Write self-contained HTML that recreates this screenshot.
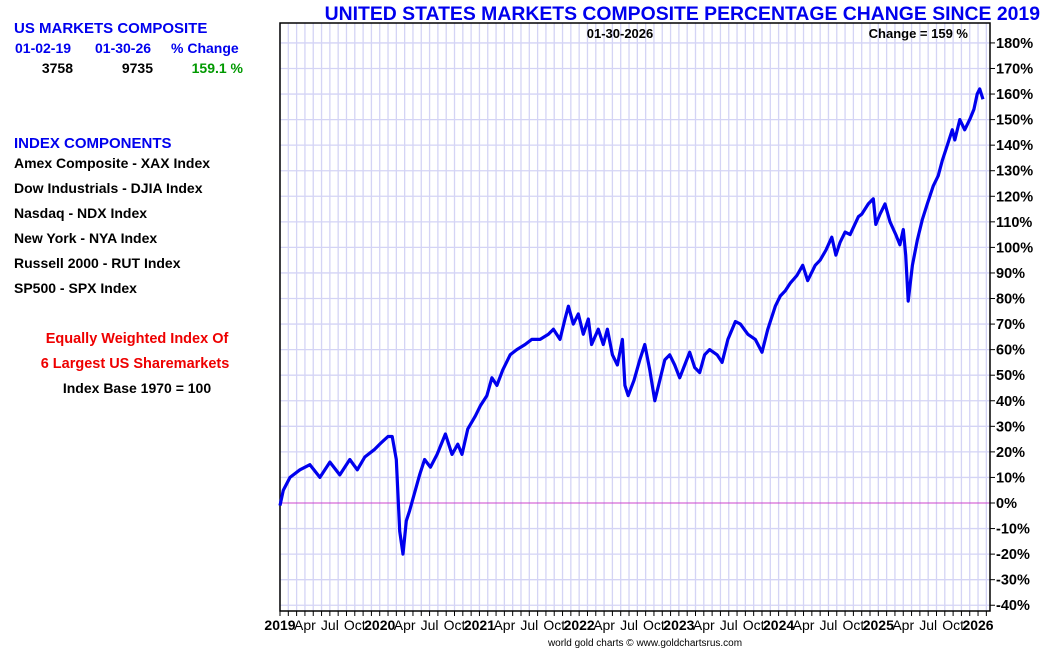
<!DOCTYPE html>
<html><head><meta charset="utf-8"><style>
html,body{margin:0;padding:0;background:#fff;}
svg{display:block;font-family:"Liberation Sans",Arial,sans-serif;}
</style></head><body>
<svg id="chart" width="1050" height="650" viewBox="0 0 1050 650">
<g font-weight="bold" font-size="14">
<text x="14" y="33" fill="#0000ee" font-size="15">US MARKETS COMPOSITE</text>
<text x="15" y="53" fill="#0000ee">01-02-19</text>
<text x="95" y="53" fill="#0000ee">01-30-26</text>
<text x="171" y="53" fill="#0000ee">% Change</text>
<text x="73" y="73" text-anchor="end" fill="#000">3758</text>
<text x="153" y="73" text-anchor="end" fill="#000">9735</text>
<text x="243" y="73" text-anchor="end" fill="#009900">159.1 %</text>
<text x="14" y="148" fill="#0000ee" font-size="15">INDEX COMPONENTS</text>
<text x="14" y="168" fill="#000">Amex Composite - XAX Index</text>
<text x="14" y="193" fill="#000">Dow Industrials - DJIA Index</text>
<text x="14" y="218" fill="#000">Nasdaq - NDX Index</text>
<text x="14" y="243" fill="#000">New York - NYA Index</text>
<text x="14" y="268" fill="#000">Russell 2000 - RUT Index</text>
<text x="14" y="293" fill="#000">SP500 - SPX Index</text>
<text x="137" y="343" text-anchor="middle" fill="#ee0000" font-size="14.5">Equally Weighted Index Of</text>
<text x="135" y="368" text-anchor="middle" fill="#ee0000" font-size="14.5">6 Largest US Sharemarkets</text>
<text x="137" y="393" text-anchor="middle" fill="#000">Index Base 1970 = 100</text>
</g>
<text x="1040" y="20" text-anchor="end" fill="#0000ee" font-weight="bold" font-size="19.4">UNITED STATES MARKETS COMPOSITE PERCENTAGE CHANGE SINCE 2019</text>
<g id="grid"></g>
<g id="axes"></g>
<g id="series"></g>
<text x="620" y="38" text-anchor="middle" font-weight="bold" font-size="13">01-30-2026</text>
<text x="968" y="38" text-anchor="end" font-weight="bold" font-size="13">Change = 159 %</text>
<text x="645" y="646" text-anchor="middle" font-size="10" fill="#000">world gold charts © www.goldchartsrus.com</text>
</svg>
<script>
const months = [0,0.4,1.2,2.4,3.6,4.8,6.0,7.2,8.4,9.3,10.2,11.4,12.0,13.0,13.5,14.0,14.4,14.8,15.2,15.6,16.2,16.8,17.4,18.1,18.9,19.9,20.7,21.4,21.9,22.6,23.5,24.1,24.9,25.5,26.1,26.8,27.7,28.5,29.5,30.3,31.3,32.3,32.9,33.7,34.3,34.7,35.3,35.9,36.5,37.1,37.5,38.3,38.9,39.4,40.0,40.6,41.2,41.5,41.9,42.6,43.3,43.9,44.5,45.1,45.7,46.3,46.9,47.5,48.1,48.7,49.3,49.9,50.5,51.1,51.7,52.6,53.2,53.9,54.8,55.4,56.3,57.2,58.0,58.7,59.6,60.2,60.8,61.4,62.2,62.9,63.5,64.4,65.0,65.7,66.4,66.9,67.4,68.0,68.6,69.6,70.0,70.8,71.4,71.7,72.2,72.8,73.4,74.1,74.6,75.0,75.3,75.6,76.1,76.7,77.3,77.9,78.6,79.2,79.7,80.3,80.9,81.2,81.8,82.4,83.0,83.5,83.9,84.2,84.6];
const pctChange = [-1,5,10,13,15,10,16,11,17,13,18,21,23,26,26,17,-11,-20,-7,-3,4,11,17,14,19,27,19,23,19,29,34,38,42,49,46,52,58,60,62,64,64,66,68,64,72,77,70,74,66,72,62,68,62,68,58,54,64,46,42,48,56,62,52,40,48,56,58,54,49,54,59,53,51,58,60,58,55,64,71,70,66,64,59,68,77,81,83,86,89,93,87,93,95,99,104,97,102,106,105,112,113,117,119,109,113,117,110,105,101,107,97,79,93,103,111,117,124,128,134,140,146,142,150,146,150,154,160,162,158];
const yTicks = [-40,-30,-20,-10,0,10,20,30,40,50,60,70,80,90,100,110,120,130,140,150,160,170,180];
const monthLabels = ["Jan","Feb","Mar","Apr","May","Jun","Jul","Aug","Sep","Oct","Nov","Dec"];
const startYear = 2019;

const L=280,R=990,T=23,B=611;
const xS = m => L + m*8.31;
const yS = v => 503 - v*2.556;
const NS="http://www.w3.org/2000/svg";
function mk(tag,attrs,parent){const e=document.createElementNS(NS,tag);for(const k in attrs)e.setAttribute(k,attrs[k]);parent.appendChild(e);return e;}
const grid=document.getElementById('grid'), axes=document.getElementById('axes'), series=document.getElementById('series');

for(let m=0; xS(m)<=R; m++){
  const x=xS(m);
  const gl=mk('line',{x1:x,x2:x,y1:T,y2:B,stroke:'#d4d4f5','stroke-width':1.3},grid);
  
  
  const tk=mk('line',{x1:x,x2:x,y1:B,y2:B+5,stroke:'#000','stroke-width':1},axes);
  
  
  const mo=m%12;
  if(mo%3===0 && x<=R){
    const isYear=mo===0;
    const t=mk('text',{x:x,y:630,'text-anchor':'middle','font-size':14,'font-weight':isYear?'bold':'normal',fill:'#000'},axes);
    t.textContent=isYear?String(startYear+m/12):monthLabels[mo];
    
    
  }
}
yTicks.forEach(v=>{
  const y=yS(v);
  if(v!==0){
    const gl=mk('line',{x1:L,x2:R,y1:y,y2:y,stroke:'#d4d4f5','stroke-width':1.3},grid);
    
    
  }
  const tk=mk('line',{x1:R,x2:R+5,y1:y,y2:y,stroke:'#000','stroke-width':1},axes);
  
  
  const t=mk('text',{x:996,y:y+5,'font-size':14.5,'font-weight':'bold',fill:'#000'},axes);
  t.textContent=v+'%';
  
  
});
const zl=mk('line',{x1:L,x2:R,y1:yS(0),y2:yS(0),stroke:'#cc44cc','stroke-width':1},grid);


const fr=mk('rect',{x:L,y:T,width:R-L,height:B-T,fill:'none',stroke:'#000','stroke-width':1.5},axes);



const pts=months.map((m,i)=>xS(m).toFixed(1)+','+yS(pctChange[i]).toFixed(1)).join(' ');
const pl=mk('polyline',{points:pts,fill:'none',stroke:'#0000ee','stroke-width':3.2,'stroke-linejoin':'round'},series);


</script>
</body></html>
